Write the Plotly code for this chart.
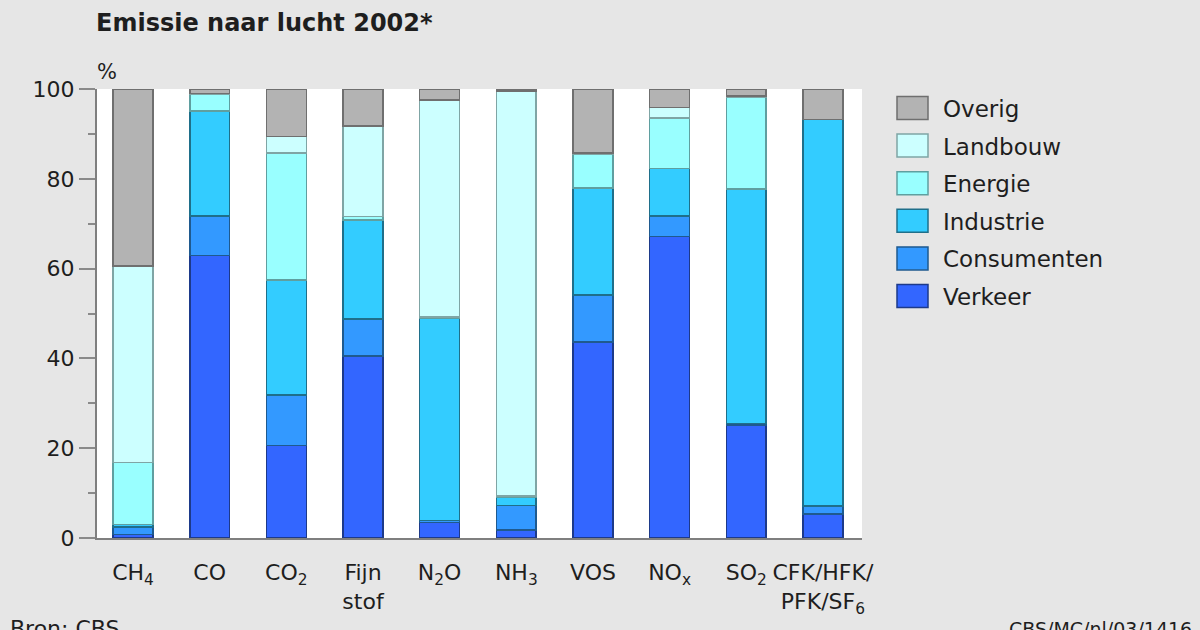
import plotly.graph_objects as go

categories = ["CH<sub>4</sub>", "CO", "CO<sub>2</sub>", "Fijn<br>stof", "N<sub>2</sub>O",
              "NH<sub>3</sub>", "VOS", "NO<sub>x</sub>", "SO<sub>2</sub>", "CFK/HFK/<br>PFK/SF<sub>6</sub>"]

verkeer     = [0.8, 62.9, 20.6, 40.5, 3.4, 1.8, 43.6, 67.1, 25.2, 5.3]
consumenten = [1.7, 8.8, 11.2, 8.3, 0.5, 5.4, 10.5, 4.6, 0.3, 1.8]
industrie   = [0.5, 23.4, 25.7, 22.0, 45.0, 1.9, 23.8, 10.6, 52.2, 86.1]
energie     = [13.8, 3.7, 28.2, 0.8, 0.3, 0.2, 7.5, 11.2, 20.5, 0.0]
landbouw    = [43.8, 0.2, 3.7, 20.2, 48.4, 90.3, 0.4, 2.4, 0.2, 0.0]
overig      = [39.4, 1.0, 10.6, 8.2, 2.4, 0.4, 14.2, 4.1, 1.6, 6.8]

series_names = ["Verkeer", "Consumenten", "Industrie", "Energie", "Landbouw", "Overig"]
series_values = [verkeer, consumenten, industrie, energie, landbouw, overig]
series_colors = ["#3366FF", "#3399FF", "#33CCFF", "#99FFFF", "#CCFFFF", "#B3B3B3"]
series_lines = ["#1d3a8a", "#1f5a8f", "#1f6f8a", "#5f9fa0", "#7fa5a5", "#6f6f6f"]

y_ticks = [0, 20, 40, 60, 80, 100]

FONT = "DejaVu Sans, Liberation Sans, Arial, sans-serif"
TXT = "#1e1e1e"

fig = go.Figure()
for name, vals, col, lc in zip(series_names, series_values, series_colors, series_lines):
    fig.add_trace(go.Bar(x=list(range(len(categories))), y=vals, name=name,
                         marker=dict(color=col, line=dict(color=lc, width=1.5)),
                         showlegend=False))

W, H = 1200, 630
L, R, T, B = 97, 862, 89, 538

def px2x(px):
    return (px - L) / (R - L)

def py2y(py):
    return (B - py) / (B - T)

shapes = []
annotations = []
# custom legend (top to bottom: Overig ... Verkeer)
for i, idx in enumerate(reversed(range(len(series_names)))):
    cy = 108 + 37.6 * i
    shapes.append(dict(type="rect", xref="paper", yref="paper",
                       x0=px2x(897), x1=px2x(928), y0=py2y(cy + 11.5), y1=py2y(cy - 11.5),
                       fillcolor=series_colors[idx], line=dict(color=series_lines[idx], width=1.5)))
    annotations.append(dict(xref="paper", yref="paper", x=px2x(941), y=py2y(cy + 1),
                            xanchor="left", yanchor="middle", showarrow=False,
                            text=series_names[idx], font=dict(family=FONT, size=23, color=TXT)))

annotations.append(dict(xref="paper", yref="paper", x=px2x(95), y=py2y(72),
                        xanchor="left", yanchor="middle", showarrow=False,
                        text="%", font=dict(family=FONT, size=21, color=TXT)))
annotations.append(dict(xref="paper", yref="paper", x=px2x(8), y=py2y(614),
                        xanchor="left", yanchor="top", showarrow=False,
                        text="Bron: CBS", font=dict(family=FONT, size=22, color=TXT)))
annotations.append(dict(xref="paper", yref="paper", x=px2x(1194), y=py2y(616),
                        xanchor="right", yanchor="top", showarrow=False,
                        text="CBS/MC/nl/03/1416", font=dict(family=FONT, size=19, color=TXT)))

fig.update_layout(
    width=W, height=H,
    margin=dict(l=L, r=W - R, t=T, b=H - B, pad=0),
    paper_bgcolor="#E6E6E6",
    plot_bgcolor="#FFFFFF",
    barmode="stack",
    bargap=0.48,
    title=dict(text="<b>Emissie naar lucht 2002*</b>", xref="container", yref="container",
               x=96 / W, xanchor="left", y=1 - 23 / H, yanchor="middle",
               font=dict(family=FONT, size=24, color=TXT)),
    shapes=shapes,
    annotations=annotations,
    xaxis=dict(tickmode="array", tickvals=list(range(len(categories))), ticktext=categories,
               range=[-0.47, 9.51], showgrid=False, zeroline=False,
               showline=True, linecolor="#7f7f7f", linewidth=2,
               ticks="", ticklabelstandoff=14,
               tickfont=dict(family=FONT, size=22, color=TXT)),
    yaxis=dict(range=[0, 100], tickvals=y_ticks, showgrid=False, zeroline=False,
               showline=True, linecolor="#7f7f7f", linewidth=2,
               ticks="outside", ticklen=16, tickcolor="#8a8a8a", tickwidth=1.5,
               minor=dict(dtick=10, ticks="outside", ticklen=7, tickcolor="#8a8a8a", tickwidth=1.5),
               tickfont=dict(family=FONT, size=22, color=TXT)),
)

fig.write_html("out.html")
